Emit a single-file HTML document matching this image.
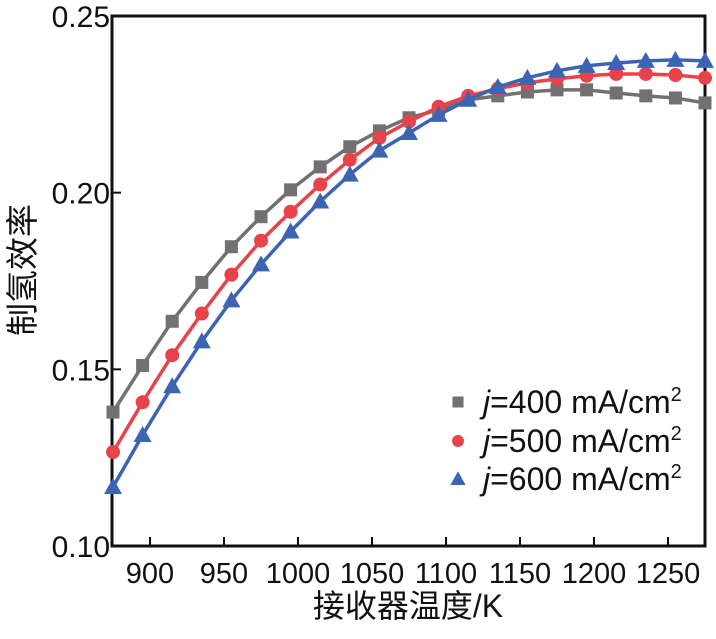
<!DOCTYPE html>
<html><head><meta charset="utf-8"><style>
body{margin:0;background:#fff;}
svg text{font-family:"Liberation Sans","Noto Sans CJK SC",sans-serif;fill:#111;}
</style></head><body>
<svg id="chart" width="716" height="634" viewBox="0 0 716 634" xmlns="http://www.w3.org/2000/svg"></svg>
<script>
const temps=[875,895,915,935,955,975,995,1015,1035,1055,1075,1095,1115,1135,1155,1175,1195,1215,1235,1255,1275];
const eff400=[0.1379,0.1511,0.1636,0.1746,0.1847,0.1932,0.2008,0.2073,0.2130,0.2175,0.2212,0.2234,0.2263,0.2274,0.2285,0.2291,0.2291,0.2282,0.2274,0.2268,0.2254];
const eff500=[0.1266,0.1407,0.1540,0.1658,0.1768,0.1864,0.1946,0.2023,0.2093,0.2155,0.2201,0.2243,0.2274,0.2294,0.2311,0.2322,0.2331,0.2336,0.2336,0.2333,0.2325];
const eff600=[0.1167,0.1314,0.1452,0.1579,0.1695,0.1797,0.1890,0.1975,0.2051,0.2119,0.2169,0.2220,0.2263,0.2299,0.2325,0.2345,0.2359,0.2367,0.2373,0.2376,0.2373];
const xTicks=[900,950,1000,1050,1100,1150,1200,1250];
const yTicks=[0.10,0.15,0.20,0.25];
const legendLabels=["=400 mA/cm","=500 mA/cm","=600 mA/cm"];
const NS="http://www.w3.org/2000/svg";
const svg=document.getElementById('chart');
const L=112,R=705,T=16,B=546;
const X=v=>150+(v-900)*74/50;
const Y=v=>B-(v-0.10)*(B-T)/0.15;
function mk(tag,attrs,parent){const e=document.createElementNS(NS,tag);for(const k in attrs)e.setAttribute(k,attrs[k]);(parent||svg).appendChild(e);return e;}
const frame=mk('rect',{x:L,y:T,width:R-L,height:B-T,fill:'none',stroke:'#111','stroke-width':3});


xTicks.forEach(t=>{
 const l=mk('line',{x1:X(t),x2:X(t),y1:B,y2:B-9,stroke:'#111','stroke-width':2});
 
 
 const tx=mk('text',{x:X(t),y:B+37,'text-anchor':'middle','font-size':29});
 tx.textContent=t;
 
 
});
yTicks.forEach(t=>{
 const l=mk('line',{x1:L,x2:L+9,y1:Y(t),y2:Y(t),stroke:'#111','stroke-width':2});
 
 
 const tx=mk('text',{x:L-2,y:Y(t)+11,'text-anchor':'end','font-size':30});
 tx.textContent=t.toFixed(2);
 
 
});
const xt=mk('text',{x:408,y:617,'text-anchor':'middle','font-size':32});
xt.textContent='接收器温度/K';


const yt=mk('text',{x:0,y:0,'text-anchor':'middle','font-size':33,transform:'translate(34,270) rotate(-90)'});
yt.textContent='制氢效率';


function marker(type,x,y,color,parent,s){
 s=s||1;
 if(type==='sq')return mk('rect',{x:x-6.5*s,y:y-6.5*s,width:13*s,height:13*s,fill:color},parent);
 if(type==='ci')return mk('circle',{cx:x,cy:y,r:7*s,fill:color},parent);
 return mk('polygon',{points:`${x},${y-9*s} ${x+9*s},${y+7*s} ${x-9*s},${y+7*s}`,fill:color},parent);
}
const series=[{d:eff400,c:'#727070',m:'sq',n:'series-400'},{d:eff500,c:'#e8434a',m:'ci',n:'series-500'},{d:eff600,c:'#3d63b3',m:'tr',n:'series-600'}];
series.forEach(s=>{
 const g=mk('g',{});
 
 
 const pl=mk('polyline',{points:temps.map((t,i)=>X(t)+','+Y(s.d[i])).join(' '),fill:'none',stroke:s.c,'stroke-width':3.5,'stroke-linejoin':'round'},g);
 
 
 temps.forEach((t,i)=>{
  const m=marker(s.m,X(t),Y(s.d[i]),s.c,g);
  
  
 });
});
const legY=[402,441,479];
series.forEach((s,i)=>{
 const g=mk('g',{});
 
 
 marker(s.m,458,legY[i],s.c,g,0.85);
 const t=mk('text',{x:483,y:legY[i]+11,'font-size':32},g);
 const a=mk('tspan',{'font-style':'italic'},t);a.textContent='j';
 const b=mk('tspan',{},t);b.textContent=legendLabels[i];
 const c=mk('tspan',{'font-size':20,dy:-12},t);c.textContent='2';
});
</script>
</body></html>
